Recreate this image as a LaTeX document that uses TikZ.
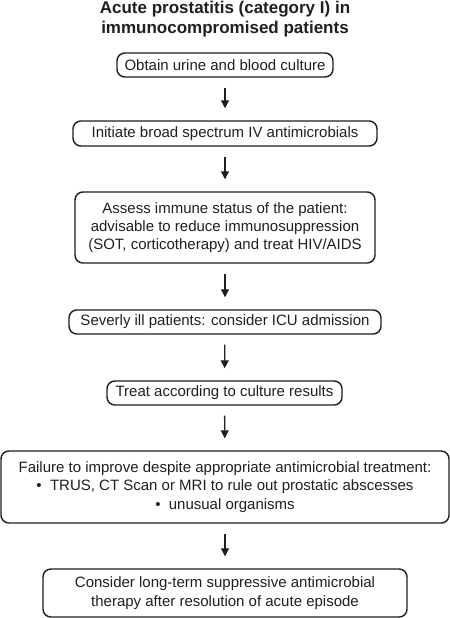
\documentclass[tikz,border=0pt]{standalone}
\usepackage{fontspec}
\setmainfont{Liberation Sans}
\usepackage{tikz}
\usetikzlibrary{arrows.meta,calc}

\begin{document}
\begin{tikzpicture}[x=0.7pt,y=-0.7pt,color=black!88]
	\tikzstyle{stage} = [draw, rounded corners=5.5pt, line width=1pt, align=center, inner sep=0pt, font=\fontsize{10.5}{12.8}\selectfont]
	\tikzstyle{flow} = [line width=0.9pt, -{Triangle[length=5.6pt,width=5.6pt]}, shorten <=7pt, shorten >=8.4pt]
	\useasboundingbox (0,0) rectangle (450,618);
	\node[align=center, font=\fontsize{11.9}{13.8}\selectfont\bfseries] (title) at (225,19) {Acute prostatitis (category I) in\\immunocompromised patients};
	\coordinate (C1) at (225,65);
	\coordinate (C2) at (225,133.5);
	\coordinate (C3) at (225,227.5);
	\coordinate (C4) at (225,322);
	\coordinate (C5) at (224.5,393);
	\coordinate (C6) at (225,487);
	\coordinate (C7) at (225,593);
	\node[stage, minimum width=151.2pt, minimum height=16.8pt] (culture) at (C1) {Obtain urine and blood culture};
	\node[stage, minimum width=212.8pt, minimum height=17.5pt] (broad) at (C2) {Initiate broad spectrum IV antimicrobials};
	\node[stage, minimum width=210pt, minimum height=49.7pt] (immune) at (C3) {Assess immune status of the patient:\\advisable to reduce immunosuppression\\(SOT, corticotherapy) and treat HIV/AIDS};
	\node[stage, minimum width=218.4pt, minimum height=16.8pt] (icu) at (C4) {Severly ill patients: consider ICU admission};
	\node[stage, minimum width=164.5pt, minimum height=16.8pt] (results) at (C5) {Treat according to culture results};
	\node[stage, minimum width=313.6pt, minimum height=50.4pt] (failure) at (C6) {Failure to improve despite appropriate antimicrobial treatment:\\\textbullet\ \ TRUS, CT Scan or MRI to rule out prostatic abscesses\\\textbullet\ \ unusual organisms};
	\node[stage, minimum width=254.8pt, minimum height=33.6pt] (longterm) at (C7) {Consider long-term suppressive antimicrobial\\therapy after resolution of acute episode};
	\draw[flow] (culture) -- (broad);
	\draw[flow] (broad) -- (immune);
	\draw[flow] (immune) -- (icu);
	\draw[flow] (icu) -- (results);
	\draw[flow] (results) -- (failure);
	\draw[flow] (failure) -- (longterm);
\end{tikzpicture}
\end{document}
